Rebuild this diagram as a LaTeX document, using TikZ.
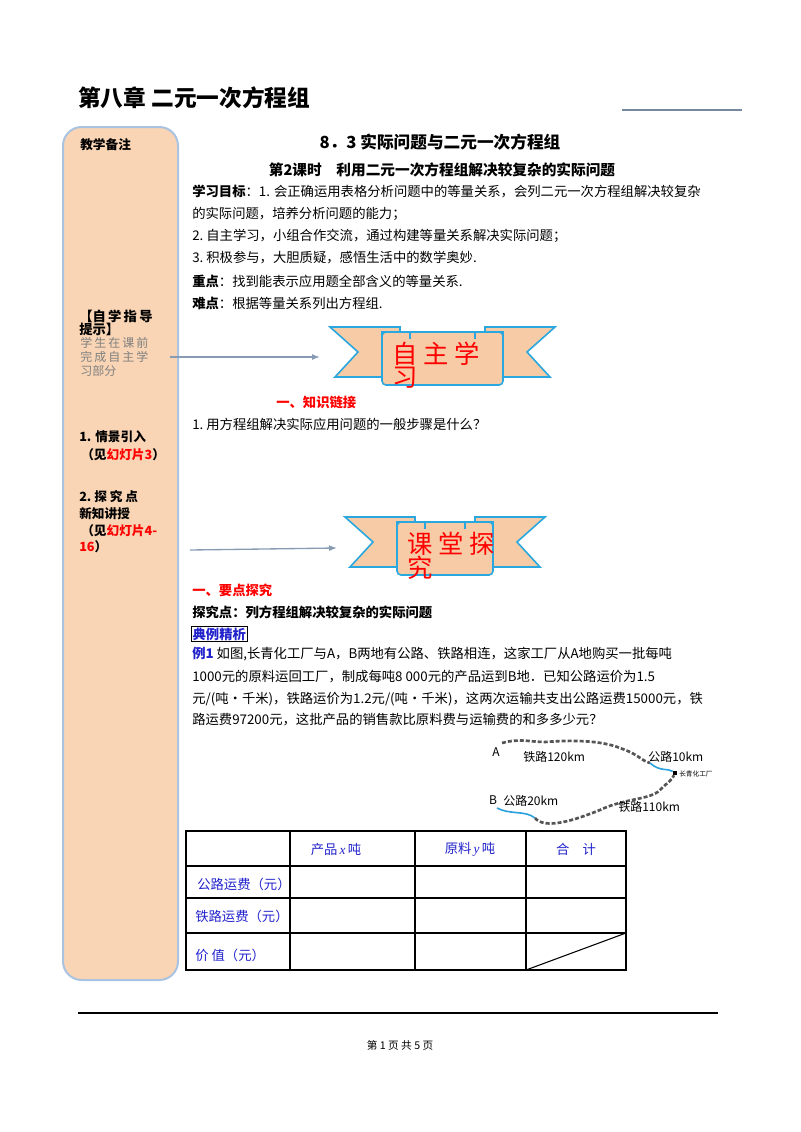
\documentclass[tikz,border=0pt]{standalone}
\usepackage{fontspec}
\setmainfont{Noto Sans CJK SC}
\newfontfamily\lser{Liberation Serif}
\usetikzlibrary{arrows.meta}
\definecolor{peach}{HTML}{F9D5B5}
\definecolor{sideb}{HTML}{A9C3E0}
\definecolor{bann}{HTML}{F6CBA5}
\definecolor{bannb}{HTML}{2AA7DF}
\definecolor{tblue}{HTML}{2222CC}
\definecolor{rail}{HTML}{555555}
\definecolor{road}{HTML}{2AA0DC}
\newcommand{\ctwo}[1]{\fontsize{#1}{#1}\selectfont}
\begin{document}
\begin{tikzpicture}[x=0.75pt,y=-0.75pt,
  body/.style={anchor=west,inner sep=0,font=\ctwo{10}},
  side/.style={anchor=west,inner sep=0,font=\ctwo{9.5}\bfseries},
  arr/.style={draw=sideb!80!black,line width=1pt,-{Latex[length=6pt]}},
  railw/.style={draw=rail,line width=2pt,dash pattern=on 3pt off 1.5pt},
  roadw/.style={draw=road,line width=1.2pt},
  bl/.style={font=\ctwo{10},text=tblue,inner sep=0}]
\useasboundingbox (0,0) rectangle (800,1132);
% header
\node[anchor=west,inner sep=0,font=\ctwo{17}\bfseries] (ch) at (78,98) {第八章\ 二元一次方程组};
\coordinate (h1) at (622,110); \coordinate (h2) at (742,110);
\draw[sideb!70!black,line width=1pt] (h1) -- (h2);
% sidebar
\draw[fill=peach,draw=sideb,line width=1.5pt,rounded corners=14pt] (63,127) rectangle (178,980);
\node[side] (s0) at (80,145) {教学备注};
\node[side,font=\ctwo{10}\bfseries] (s1) at (79,316) {【自\,学\,指\,导};
\node[side,font=\ctwo{10}\bfseries] (s2) at (79,329) {提示】};
\node[anchor=west,inner sep=0,font=\ctwo{9},text=gray] (s3) at (80,343) {学\,生\,在\,课\,前};
\node[anchor=west,inner sep=0,font=\ctwo{9},text=gray] (s4) at (80,357) {完\,成\,自\,主\,学};
\node[anchor=west,inner sep=0,font=\ctwo{9},text=gray] (s5) at (80,371) {习部分};
\node[side] at (79,437) {1. 情景引入};
\node[side] at (81,455) {（见\textcolor{red}{幻灯片3}）};
\node[side] at (79,497) {2.\ 探\ 究\ 点};
\node[side] at (79,514) {新知讲授};
\node[side] at (81,531) {（见\textcolor{red}{幻灯片4-}};
\node[side] at (79,547) {\textcolor{red}{16}）};
% main titles
\node[inner sep=0,font=\ctwo{12.5}\bfseries] (t1) at (440,142) {8．3\ 实际问题与二元一次方程组};
\node[inner sep=0,font=\ctwo{11}\bfseries] (t2) at (442,170) {第2课时\quad 利用二元一次方程组解决较复杂的实际问题};
\node[body] at (192,191) {\textbf{学习目标}：1. 会正确运用表格分析问题中的等量关系，会列二元一次方程组解决较复杂};
\node[body] at (192,214) {的实际问题，培养分析问题的能力；};
\node[body] at (192,236) {2.\ 自主学习，小组合作交流，通过构建等量关系解决实际问题；};
\node[body] at (192,258) {3.\ 积极参与，大胆质疑，感悟生活中的数学奥妙.};
\node[body] at (192,281) {\textbf{重点}：找到能表示应用题全部含义的等量关系.};
\node[body] at (192,303) {\textbf{难点}：根据等量关系列出方程组.};
% banners
\foreach \bx/\by/\bw/\txt/\txtb/\nm in {330/327/225/{自\ 主\ 学}/习/b1, 345/517/200/{课\ 堂\ 探}/究/b2}{
  \begin{scope}[shift={(\bx,\by)}]
    \pgfmathsetmacro{\W}{\bw}
    \draw[fill=bann,draw=bannb,line width=1.2pt] (0,0) -- (70,0) -- (70,50) -- (5,50) -- (28,25) -- cycle;
    \draw[fill=bann,draw=bannb,line width=1.2pt] (\W,0) -- (\W-70,0) -- (\W-70,50) -- (\W-5,50) -- (\W-28,25) -- cycle;
    \draw[fill=bann,draw=bannb,line width=1.2pt,rounded corners=3pt] (52,5) rectangle (\W-52,58);
    \draw[draw=bannb,line width=1.2pt] (52,12) -- (52,5) -- (80,5) -- (80,12);
    \draw[draw=bannb,line width=1.2pt] (\W-52,12) -- (\W-52,5) -- (\W-80,5) -- (\W-80,12);
    \node[anchor=west,inner sep=0,text=red,font=\ctwo{19}] (\nm) at (62,27) {\txt};
    \node[anchor=west,inner sep=0,text=red,font=\ctwo{19}] at (62,51) {\txtb};
  \end{scope}}
\coordinate (a1s) at (170,357); \coordinate (a1e) at (320,357);
\draw[arr] (a1s) -- (a1e);
\coordinate (a2s) at (190,550); \coordinate (a2e) at (337,548);
\draw[arr] (a2s) -- (a2e);
\node[body,text=red,font=\ctwo{10}\bfseries] at (276,402) {一、知识链接};
\node[body] at (192,424) {1.\ 用方程组解决实际应用问题的一般步骤是什么？};
\node[body,text=red,font=\ctwo{10}\bfseries] at (192,590) {一、要点探究};
\node[body,font=\ctwo{10}\bfseries] at (192,612) {探究点：列方程组解决较复杂的实际问题};
\node[body,text=tblue,font=\ctwo{10}\bfseries,draw=black,inner sep=1pt] (dl) at (191,634) {典例精析};
\node[body] at (192,654) {\textcolor{tblue}{\textbf{例1}}\ 如图,长青化工厂与A，B两地有公路、铁路相连，这家工厂从A地购买一批每吨};
\node[body] at (192,677) {1000元的原料运回工厂，制成每吨8 000元的产品运到B地．已知公路运价为1.5};
\node[body] at (192,699) {元/(吨·千米)，铁路运价为1.2元/(吨·千米)，这两次运输共支出公路运费15000元，铁};
\node[body] at (192,720) {路运费97200元，这批产品的销售款比原料费与运输费的和多多少元？};
% map
\node[inner sep=0,font=\ctwo{9}] (mA) at (496,752) {A};
\node[inner sep=0,font=\ctwo{9}] (mB) at (493,800) {B};
\node[inner sep=1.5pt,fill=black] (fac) at (675,773) {};
\node[anchor=west,inner sep=0,font=\ctwo{5}] at (679,774) {长青化工厂};
\coordinate (r1) at (502,743); \coordinate (r2) at (650,763);
\draw[railw] (r1) .. controls (520,738) and (530,742) .. (545,742) .. controls (570,740) and (600,740) .. (620,748) .. controls (640,755) and (640,760) .. (r2);
\draw[roadw] (r2) .. controls (660,772) and (668,768) .. (fac);
\coordinate (q1) at (497,808); \coordinate (q2) at (535,818);
\draw[roadw] (q1) .. controls (510,815) and (525,810) .. (q2);
\draw[railw] (q2) .. controls (545,830) and (575,820) .. (600,810) .. controls (625,798) and (650,800) .. (660,790) .. controls (668,782) and (672,780) .. (fac);
\node[anchor=west,inner sep=0,font=\ctwo{9}] at (523,757) {铁路120km};
\node[anchor=west,inner sep=0,font=\ctwo{9}] at (648,757) {公路10km};
\node[anchor=west,inner sep=0,font=\ctwo{9}] at (503,801) {公路20km};
\node[anchor=west,inner sep=0,font=\ctwo{9}] at (618,807) {铁路110km};
% table
\draw[line width=2pt] (186,831) rectangle (626,970);
\foreach \x in {290,415,526} \draw[line width=0.8pt] (\x,831) -- (\x,970);
\foreach \y in {866,898,933} \draw[line width=0.8pt] (186,\y) -- (626,\y);
\draw[line width=0.8pt] (526,970) -- (626,933);
\node[bl] at (336,849) {产品\,{\lser\itshape x}\,吨};
\node[bl] at (470,849) {原料\,{\lser\itshape y}\,吨};
\node[bl] at (576,849) {合\quad 计};
\node[bl,anchor=west] at (197,884) {公路运费（元）};
\node[bl,anchor=west] at (195,916) {铁路运费（元）};
\node[bl,anchor=west] at (195,955) {价\ 值（元）};
% footer
\coordinate (f1) at (78,1013); \coordinate (f2) at (718,1013);
\draw[line width=0.8pt] (f1) -- (f2);
\node[inner sep=0,font=\ctwo{8}] at (400,1045) {第\ 1\ 页\ 共\ 5\ 页};
\end{tikzpicture}
\end{document}
